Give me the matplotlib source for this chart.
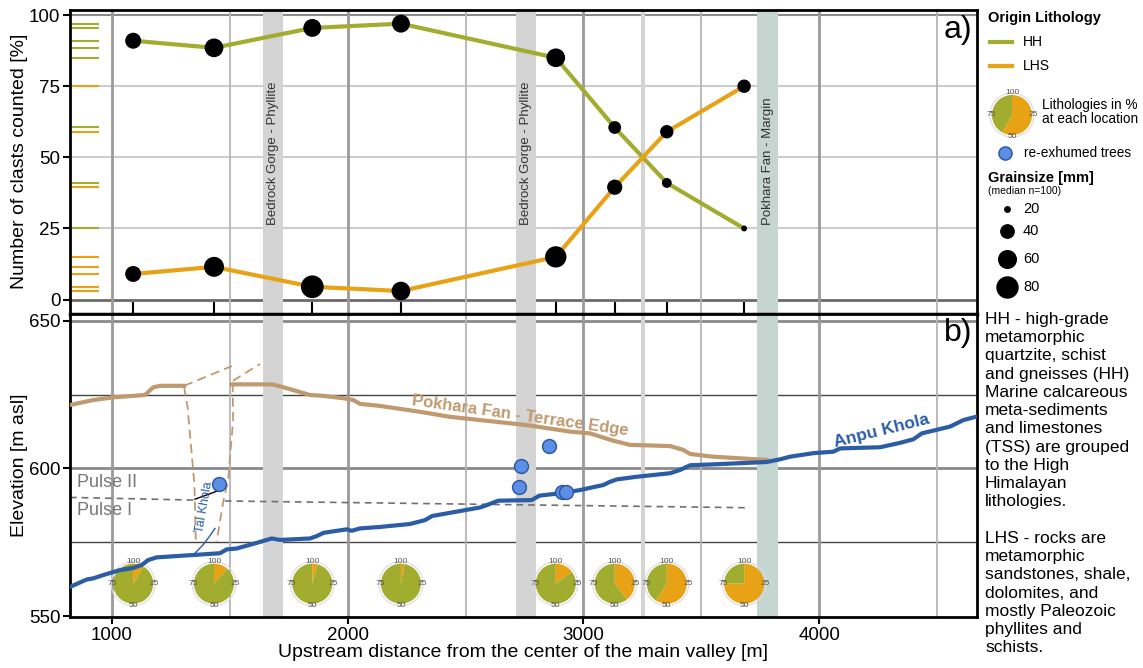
import numpy as np
import matplotlib
matplotlib.use("Agg")
from matplotlib import pyplot as plt
from matplotlib.patches import Circle, Wedge
from matplotlib.transforms import Affine2D, ScaledTranslation

plt.rcParams['font.family'] = ['Liberation Sans', 'DejaVu Sans']

W, H = 1143, 668

HH_C = '#a2ac2e'
LHS_C = '#e8a215'
TERRACE_C = '#c09a6e'
RIVER_C = '#2b5ca6'
TREE_FC = '#5b8fe6'
TREE_EC = '#2a55a0'

# clast counts per sampling site
sample_dist = [1090, 1433, 1850, 2226, 2883, 3133, 3354, 3682]
hh_pct = [91, 88.5, 95.5, 97, 85, 60.5, 41, 25]
lhs_pct = [9, 11.5, 4.5, 3, 15, 39.5, 59, 75]
hh_grain = [45, 58, 54, 54, 58, 33, 25, 19]
lhs_grain = [45, 65, 82, 58, 73, 42, 35, 35]
pie_elev = 561

# bedrock gorges / fan margin
band_start = [1642, 2713, 3243, 3738]
band_end = [1727, 2798, 3262, 3827]
band_labels = ['Bedrock Gorge - Phyllite', 'Bedrock Gorge - Phyllite', '', 'Pokhara Fan - Margin']

# long profiles
terrace_left_x = [822, 921, 1006, 1140, 1175, 1204, 1306]
terrace_left_y = [621.5, 623.2, 624.1, 624.9, 627.5, 628.0, 628.0]
terrace_right_x = [1508, 1678, 1720, 1840, 1897, 1981, 2024, 2052, 2137, 2307, 2434, 2562,
                   2760, 2943, 3028, 3127, 3198, 3368, 3424, 3454, 3551, 3778]
terrace_right_y = [628.5, 628.5, 627.7, 624.9, 624.6, 623.8, 623.2, 621.9, 621.2, 619.2, 617.5, 616.4,
                   614.7, 612.5, 611.9, 609.4, 608.0, 607.6, 606.3, 604.9, 604.0, 602.9]

river_x = [822, 893, 921, 963, 1034, 1084, 1126, 1154, 1190, 1345, 1458, 1487, 1529, 1614, 1678,
           1713, 1840, 1869, 1897, 1996, 2017, 2052, 2137, 2264, 2328, 2358, 2477, 2562, 2590,
           2639, 2781, 2813, 2901, 2986, 3049, 3085, 3113, 3142, 3226, 3368, 3410, 3453, 3551,
           3778, 3834, 3877, 3976, 4061, 4089, 4259, 4344, 4400, 4436, 4556, 4612, 4670]
river_y = [559.9, 562.4, 562.8, 563.9, 565.6, 566.2, 567.3, 569.0, 569.9, 570.7, 571.3, 572.6,
           572.9, 574.8, 576.3, 575.8, 576.3, 577.1, 578.2, 579.4, 578.9, 579.7, 580.2, 581.2,
           582.5, 583.9, 585.6, 586.8, 587.6, 589.1, 589.3, 590.8, 591.6, 592.7, 593.8, 594.4,
           595.5, 596.3, 597.2, 598.4, 599.5, 601.1, 601.4, 602.2, 603.1, 604.0, 605.2, 605.7,
           606.8, 607.2, 608.7, 609.9, 611.9, 614.2, 616.4, 617.6]

tal_x = [1352, 1386, 1412, 1437]
tal_y = [571.3, 574.1, 576.8, 579.7]

cut_left_x = [1306, 1321, 1335, 1350, 1356]
cut_left_y = [627.7, 620.7, 608.0, 594.4, 574.6]
cut_right_x = [1512, 1514, 1493, 1472, 1444]
cut_right_y = [628.9, 616.4, 596.1, 588.7, 575.2]
upper_a_x, upper_a_y = [1306, 1509], [628.0, 634.7]
upper_b_x, upper_b_y = [1513, 1628], [629.7, 635.4]

pulse_left_x, pulse_left_y = [822, 1352], [590.2, 589.3]
pulse_right_x, pulse_right_y = [1479, 3707], [589.0, 586.7]
step_x, step_y = [1352, 1479], [589.6, 593.3]

tree_x = [1454, 2856, 2735, 2726, 2908, 2926]
tree_y = [594.7, 607.7, 600.8, 593.6, 592.0, 592.0]

legend_grain = [20, 40, 60, 80]

notes = ("HH - high-grade\nmetamorphic\nquartzite, schist\nand gneisses (HH)\n"
         "Marine calcareous\nmeta-sediments\nand limestones\n(TSS) are grouped\n"
         "to the High\nHimalayan\nlithologies.\n\nLHS - rocks are\nmetamorphic\n"
         "sandstones, shale,\ndolomites, and\nmostly Paleozoic\nphyllites and\nschists.")


def grain_px(g):
    return 3.5 + 2.4 * np.sqrt(np.maximum(np.asarray(g, dtype=float) - 18, 0))


def grain_s(g):
    return (grain_px(g) * 0.72) ** 2


def px_box(left, top, right, bottom):
    return [left / W, 1 - bottom / H, (right - left) / W, (bottom - top) / H]


def draw_pie(ax, x, y, lhs, r=20, zorder=3):
    # pie in pixel units, anchored at data point (x, y) of ax
    tr = Affine2D() + ScaledTranslation(x, y, ax.transData)
    ax.add_patch(Circle((0, 0), r + 2, fc='none', ec='#dcdcdc', lw=0.8,
                        transform=tr, zorder=zorder, clip_on=False))
    ax.add_patch(Wedge((0, 0), r, 90 - 3.6 * lhs, 90, fc=LHS_C, ec='none',
                       transform=tr, zorder=zorder, clip_on=False))
    ax.add_patch(Wedge((0, 0), r, 90, 450 - 3.6 * lhs, fc=HH_C, ec='none',
                       transform=tr, zorder=zorder, clip_on=False))
    for txt, (dx, dy) in zip(['100', '25', '50', '75'], [(0, 1), (1, 0), (0, -1), (-1, 0)]):
        ax.text(dx * (r + 1), dy * (r + 2), txt, ha='center', va='center', fontsize=6,
                color='#555555', transform=tr, zorder=zorder + 0.1, clip_on=False)


fig = plt.figure(figsize=(W / 100, H / 100), dpi=100)

key = fig.add_axes([0, 0, 1, 1])
key.set_xlim(0, W)
key.set_ylim(H, 0)
key.axis('off')

ax_a = fig.add_axes(px_box(70, 10, 977, 313.5))
ax_b = fig.add_axes(px_box(70, 313.5, 977, 617))

for ax in (ax_a, ax_b):
    ax.set_xlim(822, 4670)
    for d in range(1000, 4700, 500):
        major = d % 1000 == 0
        ax.axvline(d, color='#9a9a9a' if major else '#b4b4b4', lw=2 if major else 1.3, zorder=0.5)
    for s, e, lab in zip(band_start, band_end, band_labels):
        fc = '#c5d5cf' if lab.startswith('Pokhara') else '#d4d4d4'
        ax.axvspan(s, e, color=fc, lw=0, zorder=0.8)
    for sp in ax.spines.values():
        sp.set_linewidth(2)
        sp.set_color('black')

# a) lithology shares
ax_a.set_ylim(-4.9, 101.8)
for v in (25, 50, 75):
    ax_a.axhline(v, color='#cccccc', lw=1.5, zorder=0.4)
ax_a.axhline(100, color='#8a8a8a', lw=1.5, zorder=0.4)
ax_a.axhline(0, color='#6a6a6a', lw=2, zorder=0.4)
for s, e, lab in zip(band_start, band_end, band_labels):
    if lab:
        ax_a.text((s + e) / 2, 26.2, lab, rotation=90, ha='center', va='bottom',
                  fontsize=9.5, color='#333333', zorder=1)

ax_a.hlines(hh_pct, 830, 945, color=HH_C, lw=1.5, zorder=2)
ax_a.hlines(lhs_pct, 830, 945, color=LHS_C, lw=1.5, zorder=2)
ax_a.plot(sample_dist, hh_pct, color=HH_C, lw=3, zorder=3, solid_capstyle='butt')
ax_a.plot(sample_dist, lhs_pct, color=LHS_C, lw=3, zorder=3, solid_capstyle='butt')
ax_a.scatter(sample_dist, hh_pct, s=grain_s(hh_grain), color='black', zorder=4, lw=0)
ax_a.scatter(sample_dist, lhs_pct, s=grain_s(lhs_grain), color='black', zorder=4, lw=0)

ax_a.set_yticks([0, 25, 50, 75, 100])
ax_a.set_xticks(sample_dist)
ax_a.tick_params(axis='x', direction='in', length=9, width=1.5, labelbottom=False)
ax_a.tick_params(axis='y', direction='out', length=5, width=1.5, labelsize=13.5, pad=2)
ax_a.spines['bottom'].set_linewidth(2.5)
ax_a.set_ylabel('Number of clasts counted [%]', fontsize=14)
ax_a.yaxis.set_label_coords(-0.046, 0.5)
ax_a.text(0.995, 0.985, 'a)', transform=ax_a.transAxes, ha='right', va='top', fontsize=23)

# b) long profile
ax_b.set_ylim(549.7, 652.5)
ax_b.axhline(650, color='#8a8a8a', lw=2, zorder=0.4)
ax_b.axhline(600, color='#8a8a8a', lw=2, zorder=0.4)
ax_b.axhline(625, color='#444444', lw=1, zorder=0.4)
ax_b.axhline(575, color='#444444', lw=1, zorder=0.4)

for i in range(len(sample_dist)):
    draw_pie(ax_b, sample_dist[i], pie_elev, lhs_pct[i], zorder=2)

dash = (0, (4, 3))
ax_b.plot(pulse_left_x, pulse_left_y, color='#707070', lw=1.2, ls=dash, zorder=2.5)
ax_b.plot(pulse_right_x, pulse_right_y, color='#707070', lw=1.2, ls=dash, zorder=2.5)
ax_b.plot(step_x, step_y, color='black', lw=1, zorder=2.5)
ax_b.text(852, 595.1, 'Pulse II', fontsize=13, color='#777777', va='center')
ax_b.text(852, 585.9, 'Pulse I', fontsize=13, color='#777777', va='center')

for xs, ys in ((cut_left_x, cut_left_y), (cut_right_x, cut_right_y),
               (upper_a_x, upper_a_y), (upper_b_x, upper_b_y)):
    ax_b.plot(xs, ys, color=TERRACE_C, lw=1.3, ls=(0, (5, 3)), zorder=2.6)

ax_b.plot(terrace_left_x, terrace_left_y, color=TERRACE_C, lw=3, zorder=3)
ax_b.plot(terrace_right_x, terrace_right_y, color=TERRACE_C, lw=3, zorder=3)
ax_b.text(2732, 617.8, 'Pokhara Fan - Terrace Edge', rotation=-8, ha='center', va='center',
          fontsize=12, fontweight='bold', color=TERRACE_C)

ax_b.plot(tal_x, tal_y, color=RIVER_C, lw=1, zorder=3)
ax_b.text(1392, 587, 'Tal Khola', rotation=80, ha='center', va='center', fontsize=9, color=RIVER_C)
ax_b.plot(river_x, river_y, color=RIVER_C, lw=3, zorder=4)
ax_b.text(4267, 612.6, 'Anpu Khola', rotation=14, ha='center', va='center',
          fontsize=12.5, fontweight='bold', color=RIVER_C)

ax_b.scatter(tree_x, tree_y, s=100, fc=TREE_FC, ec=TREE_EC, lw=1, zorder=5)

ax_b.set_xticks([1000, 2000, 3000, 4000])
ax_b.set_yticks([550, 600, 650])
ax_b.tick_params(direction='out', length=5, width=1.5, labelsize=13.5, pad=2)
ax_b.set_xlabel('Upstream distance from the center of the main valley [m]', fontsize=14, labelpad=0)
ax_b.set_ylabel('Elevation [m asl]', fontsize=14)
ax_b.yaxis.set_label_coords(-0.046, 0.5)
ax_b.text(0.995, 0.985, 'b)', transform=ax_b.transAxes, ha='right', va='top', fontsize=23)

# key on the right
key.text(988, 18, 'Origin Lithology', fontsize=10.5, fontweight='bold', va='center')
key.plot([990, 1012], [42, 42], color=HH_C, lw=3)
key.text(1023, 42, 'HH', fontsize=10, va='center')
key.plot([990, 1012], [66, 66], color=LHS_C, lw=3)
key.text(1023, 66, 'LHS', fontsize=10, va='center')
draw_pie(key, 1012, 115, 58)
key.text(1042, 112, 'Lithologies in %\nat each location', fontsize=9.8, va='center', linespacing=0.95)
key.scatter([1005], [153], s=90, fc=TREE_FC, ec=TREE_EC, lw=1)
key.text(1024, 153, 're-exhumed trees', fontsize=9.8, va='center')
key.text(988, 178, 'Grainsize [mm]', fontsize=10.5, fontweight='bold', va='center')
key.text(988, 191, '(median n=100)', fontsize=7.5, va='center')
for g, yy in zip(legend_grain, [209, 231, 259, 287]):
    key.scatter([1007], [yy], s=grain_s(g), color='black', lw=0)
    key.text(1023, yy, str(g), fontsize=10.5, va='center')

key.text(985, 312, notes, fontsize=12.5, va='top', ha='left', linespacing=1.27)

fig.savefig('out.png', dpi=100)
